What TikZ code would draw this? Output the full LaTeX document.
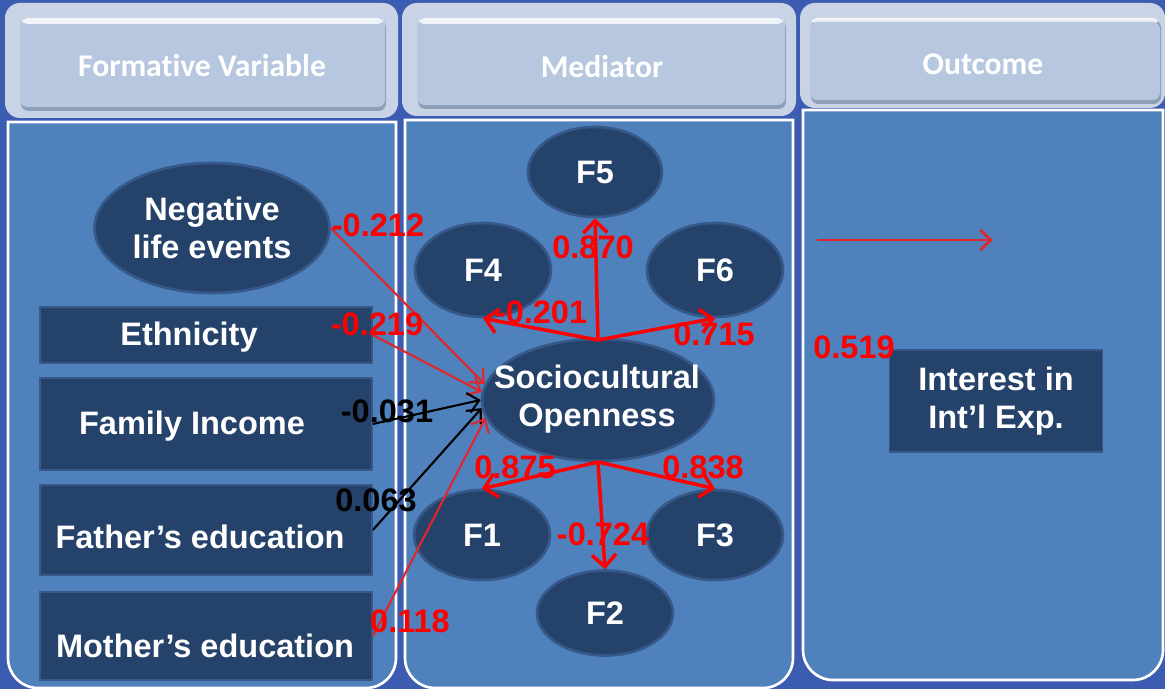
\documentclass[tikz,border=0pt]{standalone}
\usepackage{fontspec}
\setmainfont{Liberation Sans}
\newfontfamily\headfont[Ligatures=NoCommon]{Carlito}
\usetikzlibrary{shapes.geometric,arrows.meta}

\definecolor{bgblue}{HTML}{3C5CB2}
\definecolor{panel}{HTML}{4F81BD}
\definecolor{navy}{HTML}{25426A}
\definecolor{navyrim}{HTML}{36598A}
\definecolor{headframe}{HTML}{C8D3E5}
\definecolor{headbtn}{HTML}{B6C7DF}
\definecolor{headshade}{HTML}{8E9FB8}
\definecolor{pathred}{HTML}{FF0000}
\definecolor{linered}{HTML}{E0262A}

\tikzset{
  ovalnode/.style={ellipse, fill=navy, draw=navyrim, line width=1.5pt,
    text=white, font=\bfseries\fontsize{18.5}{22}\selectfont, align=center, inner sep=0pt},
  boxnode/.style={rectangle, fill=navy, draw=navyrim, line width=1pt, inner sep=0pt},
  boxtext/.style={text=white, font=\bfseries\fontsize{18.5}{22}\selectfont, align=center, inner sep=0pt},
  headtext/.style={text=white, font=\headfont\bfseries\fontsize{18}{21}\selectfont, inner sep=0pt},
  coef/.style={text=pathred, font=\bfseries\fontsize{18.5}{22}\selectfont, inner sep=0pt},
  coefblack/.style={coef, text=black},
  panelbox/.style={fill=panel, draw=white, line width=1.5pt},
  thinred/.style={draw=linered, line width=1.2pt, -{Straight Barb[length=2.2mm,width=4mm]}},
  thinblack/.style={draw=black, line width=1.2pt, -{Straight Barb[length=2.2mm,width=4mm]}},
  loading/.style={draw=pathred, line width=2pt, -{Straight Barb[length=2.4mm,width=4.8mm]}},
}

\begin{document}
\begin{tikzpicture}[x=0.02cm, y=-0.02cm]
  % backdrop
  \fill[bgblue] (0,0) rectangle (1165,689);
  \useasboundingbox (0,0) rectangle (1165,689);

  % column bodies (square top corners, rounded bottom corners)
  \draw[panelbox] (8,400) -- (8,122) -- (396,122) -- (396,400)
        [rounded corners=0.6cm] -- (396,688) -- (8,688) -- cycle;
  \draw[panelbox] (405,400) -- (405,120) -- (793,120) -- (793,400)
        [rounded corners=0.6cm] -- (793,688) -- (405,688) -- cycle;
  \draw[panelbox] (803,400) -- (803,110) -- (1163,110) -- (1163,400)
        [rounded corners=0.6cm] -- (1163,680) -- (803,680) -- cycle;

  % column headers
  \fill[headframe, rounded corners=0.3cm] (5,3) rectangle (398,118);
  \fill[headshade, rounded corners=0.15cm] (21,20) rectangle (386,111);
  \fill[headbtn, rounded corners=0.15cm] (20,18) rectangle (385,107);
  \fill[white, opacity=0.8, rounded corners=0.1cm] (22,18) rectangle (383,24);
  \node[headtext] (h1) at (202,66) {Formative Variable};

  \fill[headframe, rounded corners=0.3cm] (402,3) rectangle (796,116);
  \fill[headshade, rounded corners=0.15cm] (418,20) rectangle (786,109);
  \fill[headbtn, rounded corners=0.15cm] (417,18) rectangle (785,105);
  \fill[white, opacity=0.8, rounded corners=0.1cm] (419,18) rectangle (783,24);
  \node[headtext] (h2) at (602,67) {Mediator};

  \fill[headframe, rounded corners=0.3cm] (800,3) rectangle (1165,108);
  \fill[headshade, rounded corners=0.15cm] (811,20) rectangle (1161,104);
  \fill[white, opacity=0.8, rounded corners=0.1cm] (812,18) rectangle (1158,24);
  \fill[headbtn, rounded corners=0.15cm] (810,22) rectangle (1160,100);
  \node[headtext] (h3) at (983,64) {Outcome};

  % formative variables
  \node[ovalnode, minimum width=4.7cm, minimum height=2.6cm] (neg) at (212,228)
        {Negative\\life events};
  \node[boxnode, minimum width=6.64cm, minimum height=1.12cm] (eth) at (206,335) {};
  \node[boxtext] (ethT) at (189,337) {Ethnicity};
  \node[boxnode, minimum width=6.64cm, minimum height=1.84cm] (fam) at (206,424) {};
  \node[boxtext] (famT) at (192,426) {Family Income};
  \node[boxnode, minimum width=6.64cm, minimum height=1.8cm] (fat) at (206,530) {};
  \node[boxtext] (fatT) at (200,537) {Father’s education};
  \node[boxnode, minimum width=6.64cm, minimum height=1.76cm] (mot) at (206,636) {};
  \node[boxtext] (motT) at (205,646) {Mother’s education};

  % mediator and its facets
  \node[ovalnode, minimum width=4.64cm, minimum height=2.44cm] (soc) at (598,400) {};
  \node[boxtext] (socT) at (597,399) {Sociocultural\\Openness};
  \node[ovalnode, minimum width=2.68cm, minimum height=1.8cm] (f5) at (595,172) {F5};
  \node[ovalnode, minimum width=2.72cm, minimum height=1.88cm] (f4) at (483,270) {F4};
  \node[ovalnode, minimum width=2.72cm, minimum height=1.88cm] (f6) at (715,270) {F6};
  \node[ovalnode, minimum width=2.72cm, minimum height=1.8cm] (f1) at (482,535) {F1};
  \node[ovalnode, minimum width=2.72cm, minimum height=1.8cm] (f3) at (715,535) {F3};
  \node[ovalnode, minimum width=2.72cm, minimum height=1.7cm] (f2) at (605,613) {F2};

  % outcome
  \node[boxnode, minimum width=4.26cm, minimum height=2.04cm, boxtext] (out) at (996,401)
        {Interest in\\Int’l Exp.};
  \coordinate (oa) at (817,240);
  \coordinate (ob) at (993,240);
  \draw[thinred, line width=1.5pt] (oa) -- (ob);

  % formative paths into the mediator
  \draw[thinred]   (neg.east) -- (soc.172);
  \draw[thinred]   (eth.east) -- (soc.176);
  \draw[thinblack] (fam.east) -- (soc.180);
  \draw[thinblack] (fat.east) -- (soc.184);
  \draw[thinred]   (mot.east) -- (soc.189);

  % facet loadings
  \coordinate (top) at (598,340);
  \coordinate (bot) at (598,462);
  \draw[loading] (top) -- (f5.south);
  \draw[loading] (top) -- (f4.south);
  \draw[loading] (top) -- (f6.south);
  \draw[loading] (bot) -- (f1.north);
  \draw[loading] (bot) -- (f3.north);
  \draw[loading] (bot) -- (f2.north);

  % coefficients
  \node[coef] (c1) at (378,225) {-0.212};
  \node[coef] (c2) at (377,324) {-0.219};
  \node[coefblack] (c3) at (387,411) {-0.031};
  \node[coefblack] (c4) at (376,500) {0.063};
  \node[coef] (c5) at (410,621) {0.118};
  \node[coef] (c6) at (593,247) {0.870};
  \node[coef] (c7) at (541,312) {-0.201};
  \node[coef] (c8) at (714,334) {0.715};
  \node[coef] (c9) at (515,467) {0.875};
  \node[coef] (c10) at (703,467) {0.838};
  \node[coef] (c11) at (603,534) {-0.724};
  \node[coef] (c12) at (854,347) {0.519};
\end{tikzpicture}
\end{document}
